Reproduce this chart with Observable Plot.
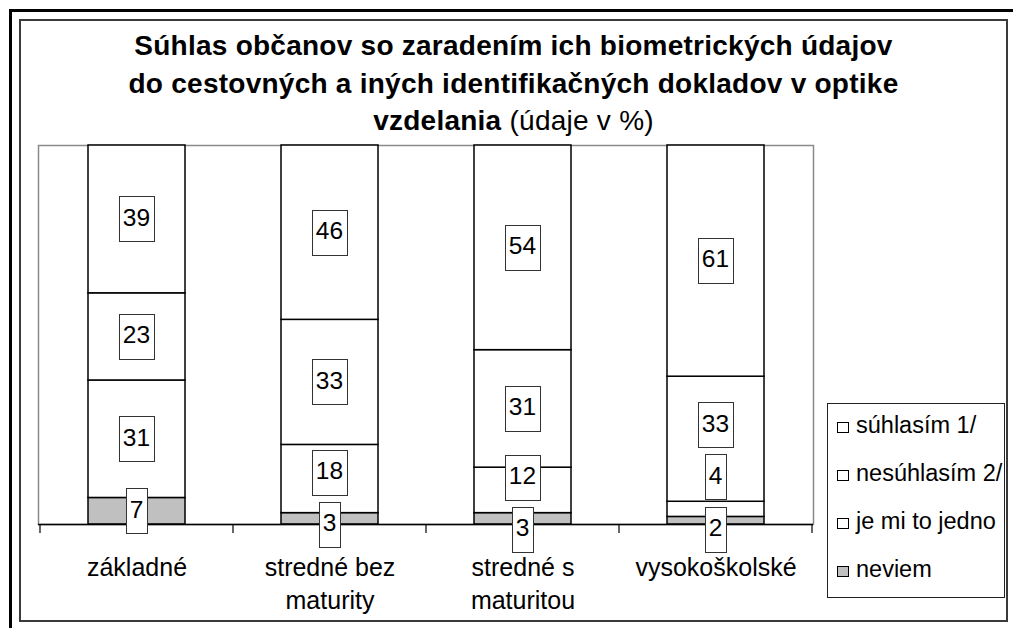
<!DOCTYPE html>
<html>
<head>
<meta charset="utf-8">
<script src="https://cdn.jsdelivr.net/npm/d3@7"></script>
<script src="https://cdn.jsdelivr.net/npm/@observablehq/plot@0.6"></script>
<style>
  html, body { margin: 0; padding: 0; background: #fff; }
  #wrap { position: relative; width: 1017px; height: 628px; overflow: hidden;
          font-family: "Liberation Sans", Arial, sans-serif; color: #000; }
  #outer { position: absolute; left: 9px; top: 9px; width: 1004px; height: 700px;
           border-left: 3px solid #000; border-top: 3px solid #000; box-sizing: border-box; }
  #inner { position: absolute; left: 19px; top: 19px; width: 989px; height: 603px;
           border: 2px solid #3a3a3a; box-sizing: border-box; }
  #chart { position: absolute; left: 0; top: 0; }
  #title { position: absolute; left: 20px; width: 987px; top: 27px; text-align: center;
           font-size: 28px; font-weight: bold; line-height: 37.5px; white-space: nowrap;
           letter-spacing: 0.25px; }
  #title .n { font-weight: normal; }
  #legend { position: absolute; left: 827px; top: 403px; width: 178px; height: 195px;
            border: 1px solid #222; box-sizing: border-box; background: #fff; }
  .item { position: absolute; left: 9px; font-size: 23.5px; line-height: 23.5px; white-space: nowrap; }
  .sw { display: inline-block; width: 10px; height: 9px; border: 1px solid #000;
        vertical-align: baseline; margin-right: 7px; }
</style>
</head>
<body>
<div id="wrap">
  <div id="outer"></div>
  <div id="inner"></div>
  <div id="chart"></div>
  <div id="title">Súhlas občanov so zaradením ich biometrických údajov<br>do cestovných a iných identifikačných dokladov v optike<br>vzdelania <span class="n">(údaje v %)</span></div>
  <div id="legend"></div>
</div>
<script>
// ---- data ----
const categories = ["základné", "stredné bez maturity", "stredné s maturitou", "vysokoškolské"];
const categoryLabels = ["základné", "stredné bez\nmaturity", "stredné s\nmaturitou", "vysokoškolské"];
const legendSeries = ["súhlasím 1/", "nesúhlasím 2/", "je mi to jedno", "neviem"];
const suhlasim   = [39, 46, 54, 61];
const nesuhlasim = [23, 33, 31, 33];
const jedno      = [31, 18, 12, 4];
const neviem     = [7, 3, 3, 2];
const seriesColors = ["#ffffff", "#ffffff", "#ffffff", "#c0c0c0"];

// ---- build table (stack bottom-up: neviem first) ----
const valuesBySeries = {
  "súhlasím 1/": suhlasim,
  "nesúhlasím 2/": nesuhlasim,
  "je mi to jedno": jedno,
  "neviem": neviem
};
const stackOrder = legendSeries.slice().reverse();
const rows = [];
categories.forEach((c, i) => {
  stackOrder.forEach(s => rows.push({edu: c, series: s, value: valuesBySeries[s][i]}));
});
const labelOf = new Map(categories.map((c, i) => [c, categoryLabels[i]]));

function bandInfo(x) {
  const bw = typeof x.bandwidth === "function" ? x.bandwidth() : x.bandwidth;
  let step = typeof x.step === "function" ? x.step() : x.step;
  if (!step) step = x(categories[1]) - x(categories[0]);
  return {bw, step};
}

// ticks at band boundaries
function boundaryTicks(index, scales) {
  const x = scales.x, y = scales.y;
  const {bw, step} = bandInfo(x);
  const y0 = y(0);
  const g = d3.create("svg:g").attr("stroke", "#000").attr("stroke-width", 1.2);
  const xs = categories.map(c => x(c) + bw / 2 - step / 2);
  xs.push(x(categories[categories.length - 1]) + bw / 2 + step / 2);
  for (const xv of xs) {
    g.append("line").attr("x1", xv).attr("x2", xv).attr("y1", y0).attr("y2", y0 + 9);
  }
  return g.node();
}

// boxed value labels with Excel-like overlap avoidance
function dataLabels(index, scales) {
  const x = scales.x, y = scales.y;
  const {bw} = bandInfo(x);
  const S = 52, H = 45, fs = 24.5, maxCenter = y(0) + 5;
  const g = d3.create("svg:g")
    .attr("font-family", '"Liberation Sans", Arial, sans-serif')
    .attr("font-size", fs);
  categories.forEach((c, i) => {
    let cum = 0;
    const labs = stackOrder.map(s => {
      const v = valuesBySeries[s][i];
      const m = y(cum + v / 2);
      cum += v;
      return {v, y: m};
    });
    labs.sort((a, b) => a.y - b.y);
    const place = cl => {
      const bottom = cl.c + (cl.m.length - 1) / 2 * S;
      if (bottom > maxCenter) cl.c -= bottom - maxCenter;
      return cl;
    };
    let clusters = labs.map(l => place({m: [l], c: l.y}));
    let changed = true;
    while (changed) {
      changed = false;
      for (let k = 0; k < clusters.length - 1; k++) {
        const a = clusters[k], b = clusters[k + 1];
        const aBot = a.c + (a.m.length - 1) / 2 * S;
        const bTop = b.c - (b.m.length - 1) / 2 * S;
        if (bTop - aBot < S - 0.01) {
          const m = a.m.concat(b.m);
          clusters.splice(k, 2, place({m, c: d3.mean(m, l => l.y)}));
          changed = true;
          break;
        }
      }
    }
    const cx = x(c) + bw / 2;
    for (const cl of clusters) {
      const n = cl.m.length;
      cl.m.forEach((l, j) => {
        const cy = cl.c - (n - 1) / 2 * S + j * S;
        const txt = String(l.v);
        const w = 7.5 + txt.length * fs * 0.556;
        g.append("rect")
          .attr("x", Math.round(cx - w / 2) + 0.5).attr("y", Math.round(cy - H / 2) + 0.5)
          .attr("width", Math.round(w)).attr("height", H)
          .attr("fill", "#fff").attr("stroke", "#333").attr("stroke-width", 1);
        g.append("text")
          .attr("x", cx).attr("y", cy + 6.8)
          .attr("text-anchor", "middle").attr("fill", "#000")
          .text(txt);
      });
    }
  });
  return g.node();
}

const chart = Plot.plot({
  width: 1017,
  height: 628,
  marginLeft: 38,
  marginRight: 204,
  marginTop: 145,
  marginBottom: 104,
  style: {fontFamily: '"Liberation Sans", Arial, sans-serif', background: "transparent", color: "#000", overflow: "visible"},
  x: {domain: categories, paddingInner: 0.5, paddingOuter: 0.25, align: 0.5, label: null},
  y: {domain: [0, 100], axis: null},
  color: {domain: legendSeries, range: seriesColors},
  marks: [
    Plot.frame({stroke: "#8a8a8a", strokeWidth: 1.5}),
    Plot.barY(rows, {x: "edu", y: "value", fill: "series", stroke: "#000", strokeWidth: 1.5}),
    Plot.ruleY([0], {stroke: "#000", strokeWidth: 1.5}),
    boundaryTicks,
    Plot.axisX({tickSize: 0, tickPadding: 28, fontSize: 25, lineHeight: 1.32,
                tickFormat: d => labelOf.get(d), label: null, fill: "#000"}),
    dataLabels
  ]
});
document.getElementById("chart").appendChild(chart);

// ---- legend ----
const legend = document.getElementById("legend");
const baselines = [31.3, 79.3, 127.3, 175.3];
legendSeries.forEach((s, i) => {
  const row = document.createElement("div");
  row.className = "item";
  row.style.top = (baselines[i] - 19.9 - 1) + "px";
  const sw = document.createElement("span");
  sw.className = "sw";
  sw.style.background = seriesColors[i];
  row.appendChild(sw);
  row.appendChild(document.createTextNode(s));
  legend.appendChild(row);
});
</script>
</body>
</html>
